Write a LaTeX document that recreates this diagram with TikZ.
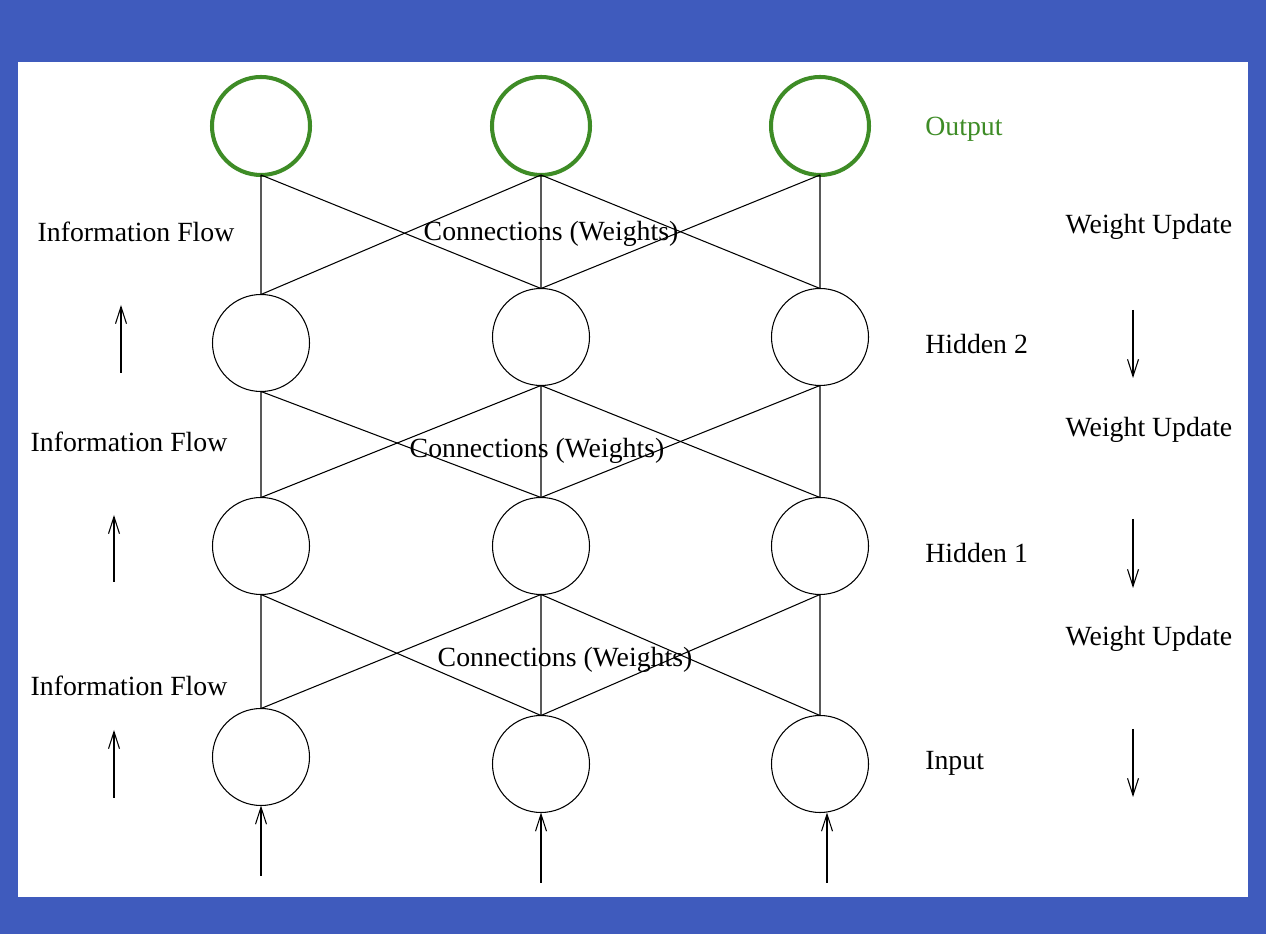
\documentclass[tikz,border=0pt]{standalone}
\usepackage{fontspec}
\setmainfont{Liberation Serif}
\usetikzlibrary{arrows.meta,positioning}

\definecolor{slideblue}{RGB}{63,91,189}
\definecolor{outgreen}{RGB}{62,140,38}

\begin{document}
\begin{tikzpicture}[neuron/.style={circle,draw=black,line width=0.6pt,minimum size=1.94cm,inner sep=0,outer sep=0},
  outneuron/.style={circle,draw=outgreen,line width=2.3pt,minimum size=1.96cm,inner sep=0,outer sep=0},
  weight/.style={line width=0.6pt},
  flow/.style={line width=0.6pt,-{Straight Barb[length=3.4mm,width=2.2mm]}},
  lbl/.style={font=\fontsize{15.8}{19}\selectfont,inner sep=0}]

\fill[slideblue] (0,0) rectangle (25.32,18.68);
\fill[white] (0.36,0.74) rectangle (24.96,17.44);

% output layer
\node[outneuron] (o1) at (5.22,16.16) {};
\node[outneuron] (o2) at (10.82,16.16) {};
\node[outneuron] (o3) at (16.40,16.16) {};

% hidden 2
\node[neuron] (b1) at (5.22,11.82) {};
\node[neuron] (b2) at (10.82,11.94) {};
\node[neuron] (b3) at (16.40,11.94) {};

% hidden 1
\node[neuron] (a1) at (5.22,7.76) {};
\node[neuron] (a2) at (10.82,7.76) {};
\node[neuron] (a3) at (16.40,7.76) {};

% input
\node[neuron] (i1) at (5.22,3.54) {};
\node[neuron] (i2) at (10.82,3.40) {};
\node[neuron] (i3) at (16.40,3.40) {};

% weights
\draw[weight] (o1.south) -- (b1.north) (o1.south) -- (b2.north);
\draw[weight] (o2.south) -- (b1.north) (o2.south) -- (b2.north) (o2.south) -- (b3.north);
\draw[weight] (o3.south) -- (b2.north) (o3.south) -- (b3.north);

\draw[weight] (b1.south) -- (a1.north) (b1.south) -- (a2.north);
\draw[weight] (b2.south) -- (a1.north) (b2.south) -- (a2.north) (b2.south) -- (a3.north);
\draw[weight] (b3.south) -- (a2.north) (b3.south) -- (a3.north);

\draw[weight] (a1.south) -- (i1.north) (a1.south) -- (i2.north);
\draw[weight] (a2.south) -- (i1.north) (a2.south) -- (i2.north) (a2.south) -- (i3.north);
\draw[weight] (a3.south) -- (i2.north) (a3.south) -- (i3.north);

% inputs coming in
\coordinate (x1) at (5.22,1.16);
\coordinate (x2) at (10.82,1.02);
\coordinate (x3) at (16.54,1.02);
\draw[flow] (x1) -- (i1.south);
\draw[flow] (x2) -- (i2.south);
\draw[flow] (x3) -- (x3 |- i3.south);

% layer names
\node[lbl,anchor=west,text=outgreen] (nout) at (18.5,16.1) {Output};
\node[lbl,anchor=west] (nh2) at (18.5,11.8) {Hidden 2};
\node[lbl,anchor=west] (nh1) at (18.5,7.62) {Hidden 1};
\node[lbl,anchor=west] (nin) at (18.5,3.42) {Input};

\node[lbl] (c3) at (11.02,14.0) {Connections (Weights)};
\node[lbl] (c2) at (10.74,9.66) {Connections (Weights)};
\node[lbl] (c1) at (11.30,5.48) {Connections (Weights)};

% left side
\node[lbl] (f3) at (2.72,14.04) {Information Flow};
\node[lbl] (f2) at (2.58,9.84) {Information Flow};
\node[lbl] (f1) at (2.58,4.96) {Information Flow};
\coordinate (f3a) at (2.42,11.22); \coordinate (f3b) at (2.42,12.58);
\coordinate (f2a) at (2.28,7.04); \coordinate (f2b) at (2.28,8.38);
\coordinate (f1a) at (2.28,2.72); \coordinate (f1b) at (2.28,4.08);
\draw[flow] (f3a) -- (f3b);
\draw[flow] (f2a) -- (f2b);
\draw[flow] (f1a) -- (f1b);

% right side
\node[lbl] (u3) at (22.98,14.14) {Weight Update};
\node[lbl] (u2) at (22.98,10.08) {Weight Update};
\node[lbl] (u1) at (22.98,5.9) {Weight Update};
\coordinate (u3a) at (22.66,12.48); \coordinate (u3b) at (22.66,11.12);
\coordinate (u2a) at (22.66,8.30); \coordinate (u2b) at (22.66,6.92);
\coordinate (u1a) at (22.66,4.10); \coordinate (u1b) at (22.66,2.74);
\draw[flow] (u3a) -- (u3b);
\draw[flow] (u2a) -- (u2b);
\draw[flow] (u1a) -- (u1b);

\end{tikzpicture}
\end{document}
